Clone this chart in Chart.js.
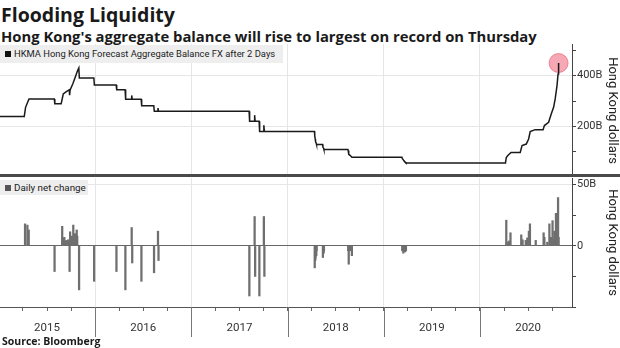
<!DOCTYPE html>
<html>
<head>
<meta charset="utf-8">
<script src="https://cdn.jsdelivr.net/npm/chart.js@4.4.0/dist/chart.umd.min.js"></script>
<style>
    body { margin: 0; background: #fff; }
    #wrap { position: relative; width: 620px; height: 348px; overflow: hidden; color: #1a1a1a; }
    .title { position: absolute; left: 1px; top: 3px; font: bold 19.5px/24px "Open Sans", sans-serif; white-space: nowrap; }
    .subtitle { position: absolute; left: 1px; top: 27px; font: bold 14.8px/18px "Open Sans", sans-serif; white-space: nowrap; }
    .source { position: absolute; left: 2px; top: 334px; font: bold 10.5px/14px "Open Sans", sans-serif; white-space: nowrap; }
    .panel { position: absolute; left: 0; width: 620px; }
    .divider { position: absolute; left: 0; top: 174px; width: 620px; height: 3px; background: #4a4a4a; }
    .legend { position: absolute; left: 0; box-sizing: border-box; padding-left: 14px; background: #eeeeee;
              font-family: Roboto, sans-serif; color: #222; white-space: nowrap; }
    .legend i { position: absolute; left: 5px; width: 6px; height: 6px; }
</style>
</head>
<body>
<div id="wrap">
    <div class="title">Flooding Liquidity</div>
    <div class="subtitle">Hong Kong's aggregate balance will rise to largest on record on Thursday</div>
    <div class="panel" style="top:44px;height:133px"><canvas id="balance-chart" width="620" height="133"></canvas></div>
    <div class="panel" style="top:177px;height:171px"><canvas id="change-chart" width="620" height="171"></canvas></div>
    <div class="divider"></div>
    <div class="legend" style="top:45px;width:283px;height:18px;line-height:18px;font-size:9.4px"><i style="top:6px;background:#111"></i>HKMA Hong Kong Forecast Aggregate Balance FX after 2 Days</div>
    <div class="legend" style="top:180px;width:88px;height:15px;line-height:15px;font-size:9.8px"><i style="top:4.5px;background:#555"></i>Daily net change</div>
    <div class="source">Source: Bloomberg</div>
</div>
<script>
// 总结余预测 (十亿港元)
const balanceDates = [
    '2015-01-05', '2015-04-07', '2015-04-12', '2015-04-18', '2015-04-25', '2015-07-30', '2015-08-01',
    '2015-08-25', '2015-08-29', '2015-09-02', '2015-09-15', '2015-09-25', '2015-09-26', '2015-09-28',
    '2015-10-08', '2015-10-17', '2015-10-26', '2015-10-31', '2015-11-02', '2015-12-27', '2015-12-29',
    '2016-03-21', '2016-03-23', '2016-04-24', '2016-04-26', '2016-05-18', '2016-05-19', '2016-05-21',
    '2016-06-24', '2016-06-26', '2016-08-11', '2016-08-13', '2016-08-26', '2016-08-27', '2016-08-29',
    '2017-08-08', '2017-08-10', '2017-08-28', '2017-08-29', '2017-08-31', '2017-09-15', '2017-09-17',
    '2017-10-02', '2017-10-03', '2017-10-05', '2018-04-13', '2018-04-14', '2018-04-16', '2018-04-17',
    '2018-04-20', '2018-04-21', '2018-05-14', '2018-05-15', '2018-05-18', '2018-05-19', '2018-08-18',
    '2018-08-19', '2018-08-21', '2018-08-26', '2018-09-02', '2019-03-11', '2019-03-12', '2019-03-16',
    '2019-03-18', '2019-03-23', '2019-03-26', '2020-04-07', '2020-04-10', '2020-04-15', '2020-04-28',
    '2020-06-02', '2020-06-09', '2020-06-25', '2020-07-04', '2020-07-10', '2020-07-29', '2020-08-28',
    '2020-09-02', '2020-09-18', '2020-09-28', '2020-10-07', '2020-10-13', '2020-10-20', '2020-10-24',
    '2020-10-26'
];
const balanceValues = [
    239, 239, 275, 290, 308, 308, 289,
    289, 308, 328, 338, 344, 323, 344,
    367, 393, 419, 430, 391, 391, 363,
    363, 344, 344, 307, 307, 322, 307,
    307, 281, 281, 260, 260, 272, 260,
    260, 220, 220, 244, 220, 220, 180,
    180, 204, 180, 180, 162, 150, 140,
    132, 128, 128, 118.5, 112.5, 108.5, 108.5,
    104.5, 89.5, 85.5, 77.5, 77.5, 73.5, 67.5,
    64.5, 59.5, 55.5, 55.5, 77, 84, 97,
    97, 124, 130, 150, 179, 187, 187,
    203, 216, 249, 275, 308, 361, 407,
    450
];

// 每日净变化 (十亿港元)
const changeDates = [
    '2015-04-10', '2015-04-19', '2015-04-24', '2015-07-31', '2015-08-29', '2015-08-31', '2015-09-04',
    '2015-09-06', '2015-09-13', '2015-09-15', '2015-09-21', '2015-09-26', '2015-09-28', '2015-10-04',
    '2015-10-10', '2015-10-12', '2015-10-16', '2015-10-19', '2015-10-23', '2015-10-25', '2015-11-01',
    '2015-12-28', '2016-03-22', '2016-04-25', '2016-05-19', '2016-05-21', '2016-06-25', '2016-08-12',
    '2016-08-27', '2016-08-29', '2017-08-09', '2017-08-29', '2017-08-31', '2017-09-16', '2017-10-03',
    '2017-10-05', '2018-04-14', '2018-04-16', '2018-04-17', '2018-04-20', '2018-04-21', '2018-05-15',
    '2018-05-18', '2018-05-19', '2018-08-19', '2018-08-21', '2018-08-26', '2018-09-02', '2019-03-12',
    '2019-03-16', '2019-03-18', '2019-03-23', '2019-03-26', '2020-04-10', '2020-04-12', '2020-04-20',
    '2020-04-26', '2020-06-06', '2020-06-08', '2020-06-11', '2020-06-23', '2020-06-26', '2020-06-29',
    '2020-07-05', '2020-07-09', '2020-07-31', '2020-08-30', '2020-09-02', '2020-09-13', '2020-09-21',
    '2020-09-24', '2020-09-27', '2020-10-03', '2020-10-06', '2020-10-10', '2020-10-13', '2020-10-16',
    '2020-10-18', '2020-10-20', '2020-10-22', '2020-10-24', '2020-10-26'
];
const changeValues = [
    18, 17, 13, -21, 16, 6, 5,
    7, 4, 4.5, 5, -21, 11.5, 8,
    17, 6, 10, 9, 13, 8, -36,
    -29, -21, -36, 15, -14, -29, -22,
    12, -12, -41, 24, -25, -41, 24,
    -25, -18, -12, -10, -8, -4, -9.5,
    -6, -4, -4, -15, -4, -8, -4,
    -6, -3, -5, -4, 21, 3, 4,
    10.7, 9, 3, 5, 4.5, 2, 6.5,
    12, 18, 4.5, 10.7, 7, 3, 18,
    4, 7, 20.6, 5, 12, 8, 26.6,
    6, 10.7, 14, 39.5, 7
];

const yearLabels = ['2015', '2016', '2017', '2018', '2019', '2020'];
const axisStart = '2015-01-05';
const axisEnd = '2020-12-16';

// 日期 -> 小数年份
function toYear(d) {
    const [y, m, day] = d.split('-').map(Number);
    const start = Date.UTC(y, 0, 1);
    return y + (Date.UTC(y, m - 1, day) - start) / (Date.UTC(y + 1, 0, 1) - start);
}
const toPoints = (dates, values) => dates.map((d, i) => ({ x: toYear(d), y: values[i] }));

const xMin = toYear(axisStart);
const xMax = toYear(axisEnd);
const gridLight = '#e6e6e6';
const axisDark = '#444';
const clear = 'rgba(0,0,0,0)';
const tickFont = { family: 'Roboto', size: 11 };
const yearGrid = ctx => Number.isInteger(ctx.tick.value) ? gridLight : clear;

const axisTitle = {
    display: true,
    text: 'Hong Kong dollars',
    color: '#222',
    font: { family: 'Roboto', size: 13 },
    padding: { top: 0, bottom: 2 }
};

const chartBaseOptions = {
    responsive: false,
    animation: false,
    devicePixelRatio: 1,
    events: [],
    layout: { padding: 0, autoPadding: false },
    plugins: { legend: { display: false }, tooltip: { enabled: false } }
};

// 年份分隔线 (x 轴下方)
const yearDividers = {
    id: 'yearDividers',
    afterDraw(chart) {
        const { ctx, chartArea, scales: { x } } = chart;
        ctx.save();
        ctx.strokeStyle = '#777';
        ctx.lineWidth = 1;
        yearLabels.forEach(y => {
            const px = Math.round(x.getPixelForValue(Number(y))) + 0.5;
            ctx.beginPath();
            ctx.moveTo(px, chartArea.bottom);
            ctx.lineTo(px, chartArea.bottom + 30);
            ctx.stroke();
        });
        ctx.restore();
    }
};

// 上图：总结余
const balancePoints = toPoints(balanceDates, balanceValues);
window.balanceChart = new Chart(document.getElementById('balance-chart'), {
    type: 'line',
    data: {
        datasets: [{
            label: 'HKMA Hong Kong Forecast Aggregate Balance FX after 2 Days',
            data: balancePoints,
            borderColor: '#1a1a1a',
            borderWidth: 1.5,
            pointRadius: 0,
            tension: 0,
            order: 1
        }, {
            label: 'latest',
            data: [balancePoints[balancePoints.length - 1]],
            showLine: false,
            pointRadius: 9.5,
            pointBackgroundColor: 'rgba(240, 110, 130, 0.6)',
            pointBorderColor: 'rgba(225, 85, 105, 0.6)',
            pointBorderWidth: 1,
            order: 2
        }]
    },
    options: {
        ...chartBaseOptions,
        scales: {
            x: {
                type: 'linear',
                min: xMin,
                max: xMax,
                ticks: { display: false, stepSize: 1, includeBounds: false },
                grid: { color: yearGrid, drawTicks: false },
                border: { display: false },
                afterFit: s => { s.height = 0; s.paddingLeft = 0; s.paddingRight = 0; }
            },
            y: {
                position: 'right',
                min: 0,
                max: 525,
                border: { color: axisDark },
                grid: {
                    color: ctx => (ctx.tick.value === 200 || ctx.tick.value === 400) ? gridLight : clear,
                    tickColor: axisDark,
                    tickLength: 4
                },
                ticks: {
                    stepSize: 100,
                    includeBounds: false,
                    padding: 1,
                    color: '#333',
                    font: tickFont,
                    callback: v => (v === 200 || v === 400) ? v + 'B' : ''
                },
                title: axisTitle,
                afterFit: s => { s.width = 48; s.paddingTop = 0; s.paddingBottom = 0; }
            }
        }
    }
});

// 下图：每日净变化
const quarterTicks = [];
yearLabels.forEach(y => [0, 0.25, 0.5, 0.75].forEach(q => quarterTicks.push(Number(y) + q)));

window.changeChart = new Chart(document.getElementById('change-chart'), {
    type: 'bar',
    data: {
        datasets: [{
            label: 'Daily net change',
            data: toPoints(changeDates, changeValues),
            backgroundColor: '#6f6f6f',
            borderWidth: 0,
            barThickness: 1.6
        }]
    },
    options: {
        ...chartBaseOptions,
        layout: { padding: { top: 1 }, autoPadding: false },
        scales: {
            x: {
                type: 'linear',
                min: xMin,
                max: xMax,
                offset: false,
                afterBuildTicks: s => { s.ticks = quarterTicks.map(v => ({ value: v })); },
                grid: { offset: false, color: yearGrid, tickColor: '#666', tickLength: 4 },
                border: { color: '#555' },
                ticks: {
                    autoSkip: false,
                    maxRotation: 0,
                    padding: 10,
                    color: '#333',
                    font: { family: 'Roboto', size: 11.5 },
                    callback: v => (v % 1 === 0.5) ? yearLabels[Math.floor(v) - Number(yearLabels[0])] : ''
                },
                afterFit: s => { s.height = 41; s.paddingLeft = 0; s.paddingRight = 0; }
            },
            y: {
                position: 'right',
                min: -50,
                max: 55.5,
                border: { color: axisDark },
                grid: {
                    color: ctx => ctx.tick.value === 0 ? '#666' : (ctx.tick.value === 50 ? gridLight : clear),
                    tickColor: axisDark,
                    tickLength: 4
                },
                ticks: {
                    stepSize: 25,
                    includeBounds: false,
                    padding: 1,
                    color: '#333',
                    font: tickFont,
                    callback: v => v === 50 ? '50B' : (v === 0 ? '0' : '')
                },
                title: axisTitle,
                afterFit: s => { s.width = 48; s.paddingTop = 0; s.paddingBottom = 0; }
            }
        }
    },
    plugins: [yearDividers]
});
</script>
</body>
</html>
